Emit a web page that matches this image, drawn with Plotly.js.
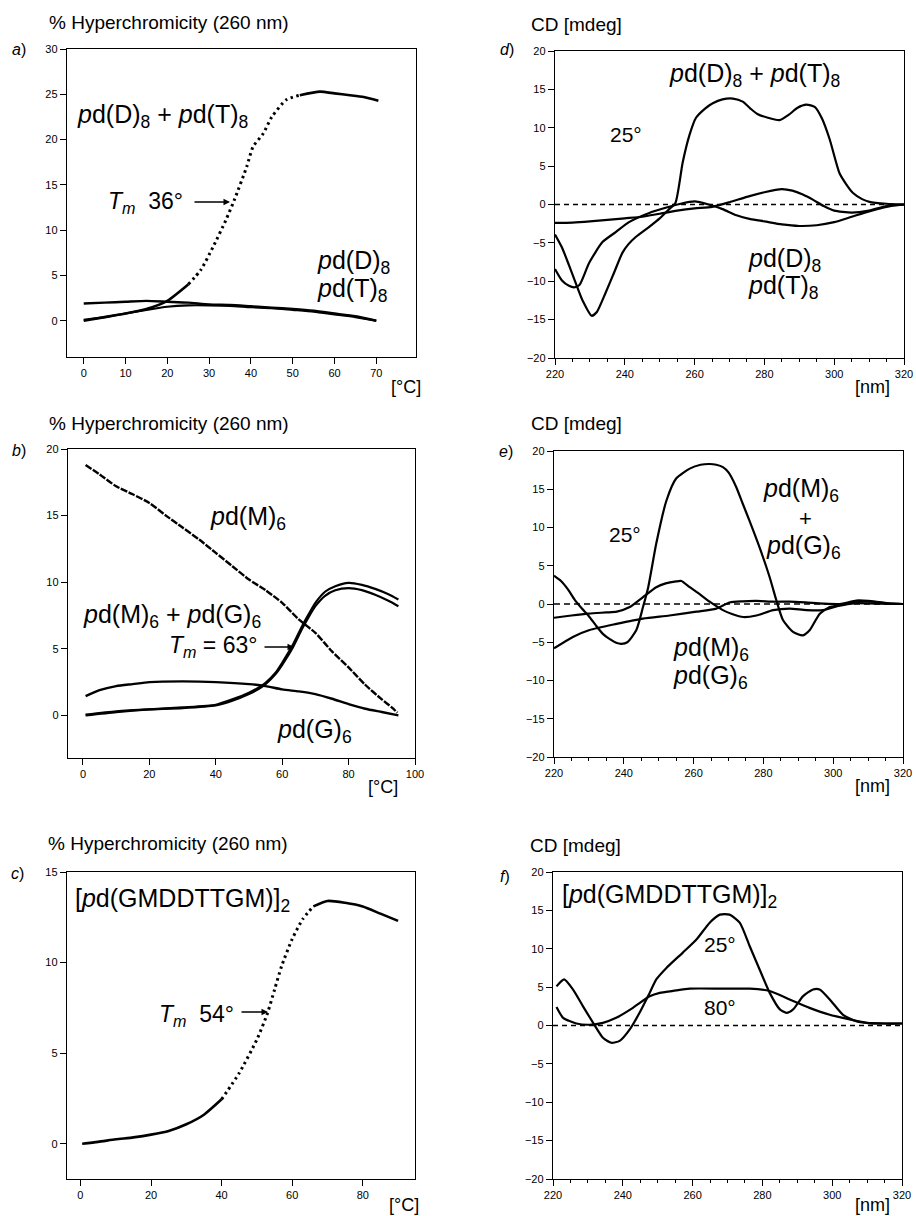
<!DOCTYPE html>
<html>
<head>
<meta charset="utf-8">
<script src="https://cdn.plot.ly/plotly-3.0.1.min.js"></script>
<style>html,body{margin:0;padding:0;background:#fff;}#chart{width:916px;height:1216px;}</style>
</head>
<body>
<div id="chart"></div>
<script>
// ---------- Panel a : UV melting, pd(D)8 + pd(T)8 ----------
const aMeltT = [0, 5, 10, 15, 20, 25, 28, 31, 34, 36, 39, 40.5, 43, 45, 48.5, 51.7, 56.5, 60, 63.7, 67, 70.5];
const aMeltY = [0, 0.4, 0.8, 1.3, 2.2, 4.0, 5.6, 8.2, 11.1, 13.3, 17.0, 19.2, 20.7, 22.5, 24.4, 24.9, 25.3, 25.1, 24.9, 24.7, 24.3];
const aD8T = [0, 5, 10, 15, 20, 25, 30, 35, 40, 45, 50, 55, 60, 65, 70];
const aD8Y = [1.9, 2.0, 2.1, 2.2, 2.1, 2.0, 1.8, 1.75, 1.6, 1.45, 1.3, 1.1, 0.8, 0.5, 0.0];
const aT8T = [0, 5, 10, 15, 20, 25, 30, 35, 40, 45, 50, 55, 60, 65, 70];
const aT8Y = [0.1, 0.4, 0.8, 1.2, 1.55, 1.7, 1.7, 1.65, 1.5, 1.4, 1.2, 1.0, 0.7, 0.4, 0.0];

// ---------- Panel d : CD, pd(D)8 / pd(T)8 ----------
const dMixNm = [220, 222, 224, 226, 228, 230.5, 232, 234.5, 237, 239.3, 241, 243.2, 247, 250, 252.7, 254.5, 256.6, 258.5, 260.4, 263, 265.2, 268, 271, 273.8, 276, 278, 281, 284.3, 287, 289.5, 292, 294.5, 296.5, 298.7, 301.5, 303.5, 305.4, 308, 310.1, 315, 320];
const dMixCD = [-3.9, -5.6, -7.9, -10.3, -12.6, -14.5, -14.0, -11.5, -8.8, -6.3, -5.2, -4.2, -2.9, -1.8, -0.6, 0.2, 5.5, 9.0, 11.3, 12.5, 13.2, 13.7, 13.8, 13.4, 12.5, 11.8, 11.3, 11.0, 11.7, 12.6, 13.0, 12.7, 11.2, 8.5, 4.1, 2.6, 1.5, 0.7, 0.35, 0.1, 0];
const dD8Nm = [220, 222, 224, 225.5, 227, 229.8, 233.6, 237.4, 241.2, 247, 252.7, 256, 260, 264, 268, 272, 276, 280, 285, 290, 295, 300, 305, 310, 315, 320];
const dD8CD = [-8.4, -9.9, -10.6, -10.8, -10.5, -7.6, -4.9, -3.6, -2.3, -1.1, -0.3, 0.1, 0.4, 0.0, -0.6, -1.4, -1.9, -2.2, -2.6, -2.8, -2.7, -2.3, -1.6, -0.9, -0.3, 0];
const dT8Nm = [220, 225, 230, 235, 240, 245, 250, 255, 260, 265, 270, 275, 280, 285, 288, 291, 294, 297, 300, 305, 310, 315, 320];
const dT8CD = [-2.4, -2.35, -2.2, -2.0, -1.8, -1.6, -1.2, -0.8, -0.5, -0.3, 0.3, 1.0, 1.6, 2.0, 1.8, 1.3, 0.6, -0.2, -0.8, -1.05, -0.8, -0.2, 0];

// ---------- Panel b : UV melting, pd(M)6 + pd(G)6 ----------
const bM6T = [0.8, 5, 10, 15, 20, 25, 30, 35, 40, 45, 50, 55, 60, 65, 70, 75, 80, 85, 90, 93, 94.7];
const bM6Y = [18.8, 18.1, 17.2, 16.6, 15.95, 15.0, 14.1, 13.2, 12.2, 11.2, 10.2, 9.4, 8.45, 7.2, 6.2, 4.8, 3.6, 2.3, 1.2, 0.6, 0.2];
const bMixT = [0.8, 10, 20, 30, 40, 45, 50, 53, 55, 58, 60, 63, 66, 68, 70, 73, 76, 80, 84, 88, 92, 95];
const bMix1Y = [0.0, 0.25, 0.45, 0.6, 0.8, 1.2, 1.7, 2.1, 2.45, 3.2, 3.95, 5.2, 6.7, 7.6, 8.45, 9.3, 9.7, 9.95, 9.8, 9.5, 9.1, 8.7];
const bMix2Y = [0.05, 0.3, 0.45, 0.55, 0.75, 1.1, 1.6, 2.0, 2.35, 3.1, 3.8, 5.0, 6.5, 7.4, 8.2, 9.0, 9.4, 9.55, 9.4, 9.05, 8.6, 8.2];
const bG6T = [0.8, 5, 10, 15, 20, 30, 40, 50, 55, 60, 65, 70, 75, 80, 85, 90, 95];
const bG6Y = [1.45, 1.9, 2.2, 2.35, 2.5, 2.55, 2.5, 2.35, 2.2, 1.95, 1.8, 1.6, 1.25, 0.85, 0.5, 0.25, 0.0];

// ---------- Panel e : CD, pd(M)6 / pd(G)6 ----------
const eMixNm = [220, 222, 224, 226, 228, 230, 232, 234, 236, 238, 239.3, 241, 243.6, 245.5, 247, 249.3, 252.2, 255, 258.9, 262, 264.6, 266.5, 268.4, 270, 272.2, 274, 276, 278.9, 281.8, 283.7, 285.6, 288.5, 291.3, 293.3, 296.1, 299, 301.9, 306.6, 312, 320];
const eMixCD = [3.7, 3.0, 1.9, 0.5, -0.6, -1.6, -2.8, -3.9, -4.6, -5.1, -5.2, -5.0, -3.4, -0.4, 2.2, 7.9, 13.5, 16.4, 17.7, 18.2, 18.3, 18.2, 17.9, 17.2, 15.3, 13.2, 10.9, 7.4, 3.5, 0.5, -2.1, -3.65, -4.1, -3.4, -1.3, -0.4, -0.2, 0.1, 0.05, 0];
const eM6Nm = [220, 225, 230, 235, 238, 241.7, 245.5, 249.3, 252, 255, 256.5, 258.9, 262, 264.6, 268.4, 271, 274.2, 278, 282.8, 287.5, 292.3, 297.1, 301.9, 306.6, 311.4, 316, 320];
const eM6CD = [-1.8, -1.5, -1.25, -1.1, -1.0, -0.4, 0.9, 2.2, 2.7, 2.95, 3.0, 2.2, 1.2, 0.3, -0.8, -1.3, -1.7, -1.5, -0.8, -0.6, -0.8, -0.8, -0.2, 0.3, 0.3, 0.1, 0];
const eG6Nm = [220, 225.4, 230.2, 237.9, 245.5, 253.1, 260.8, 266.5, 270.3, 274, 278, 282.8, 287.5, 292, 297, 301.9, 306.6, 310, 315, 320];
const eG6CD = [-5.8, -4.3, -3.4, -2.6, -1.9, -1.5, -1.0, -0.6, 0.2, 0.35, 0.4, 0.3, 0.3, 0.2, 0.05, 0.0, 0.45, 0.4, 0.1, 0];

// ---------- Panel c : UV melting, [pd(GMDDTTGM)]2 ----------
const cT = [0.5, 5, 10, 15, 20, 25, 30, 35, 40, 45, 50, 53, 55, 57, 60, 63, 66, 70, 75, 80, 85, 90];
const cY = [0.0, 0.1, 0.24, 0.35, 0.5, 0.7, 1.07, 1.6, 2.45, 3.9, 5.75, 7.2, 8.5, 9.8, 11.3, 12.4, 13.1, 13.4, 13.3, 13.1, 12.7, 12.3];

// ---------- Panel f : CD, [pd(GMDDTTGM)]2 at 25 and 80 °C ----------
const f25Nm = [221, 223.2, 225.7, 228.6, 231.5, 234.3, 236.7, 239.1, 242, 244.8, 247.7, 249.6, 252.5, 257.2, 261.1, 264.9, 267.8, 270.6, 273.5, 276.4, 279.2, 282.1, 285, 286.9, 288.8, 291.6, 294.5, 296.4, 299.3, 303.1, 306.9, 309.8, 315, 320];
const f25CD = [5.1, 6.0, 4.7, 2.5, 0.35, -1.6, -2.25, -2.0, -0.5, 1.65, 4.25, 6.0, 7.5, 9.5, 11.2, 13.4, 14.45, 14.45, 13.4, 10.3, 7.3, 4.25, 2.1, 1.65, 2.1, 3.8, 4.7, 4.7, 3.4, 1.4, 0.56, 0.35, 0.26, 0.26];
const f80Nm = [221, 222.9, 226.7, 230.5, 234.3, 238.1, 242.9, 247.7, 250.6, 254.4, 259.2, 268.7, 276.4, 282.1, 287.8, 293.5, 299.3, 305, 309.8, 315, 320];
const f80CD = [2.4, 1.0, 0.26, 0.1, 0.35, 1.0, 2.3, 3.8, 4.25, 4.5, 4.8, 4.8, 4.8, 4.5, 3.4, 2.3, 1.4, 0.8, 0.35, 0.26, 0.26];

// baseline (CD = 0)
const baseNm = [220, 320];
const baseCD = [0, 0];

// tick labels
const aTicksX = [0, 10, 20, 30, 40, 50, 60, 70];
const aTicksY = [0, 5, 10, 15, 20, 25, 30];
const bTicksX = [0, 20, 40, 60, 80, 100];
const bTicksY = [0, 5, 10, 15, 20];
const cTicksX = [0, 20, 40, 60, 80];
const cTicksY = [0, 5, 10, 15];
const cdTicksX = [220, 240, 260, 280, 300, 320];
const cdTicksY = [-20, -15, -10, -5, 0, 5, 10, 15, 20];

// ---------- drawing ----------
const W = 916, H = 1216;
const FONT = 'Liberation Sans, Arial, Helvetica, sans-serif';
const px = v => v / W;
const py = v => 1 - v / H;

function line(xs, ys, ax, opts) {
  opts = opts || {};
  return {
    type: 'scatter', mode: 'lines', x: xs, y: ys, xaxis: 'x' + ax, yaxis: 'y' + ax,
    line: {color: 'black', width: opts.width || 2.2, dash: opts.dash || 'solid', shape: 'spline', smoothing: 0.6},
    hoverinfo: 'skip'
  };
}
function seg(xs, ys, i0, i1, ax, opts) {
  return line(xs.slice(i0, i1 + 1), ys.slice(i0, i1 + 1), ax, opts);
}

const traces = [
  // a
  seg(aMeltT, aMeltY, 0, 5, '', {width: 2.6}),
  seg(aMeltT, aMeltY, 5, 15, '', {width: 3, dash: '2.5px,3.5px'}),
  seg(aMeltT, aMeltY, 15, 20, '', {width: 2.6}),
  line(aD8T, aD8Y, '', {width: 2.4}),
  line(aT8T, aT8Y, '', {width: 2.2}),
  // d
  line(baseNm, baseCD, '2', {width: 1.4, dash: '5px,4px'}),
  line(dMixNm, dMixCD, '2'),
  line(dD8Nm, dD8CD, '2'),
  line(dT8Nm, dT8CD, '2'),
  // b
  line(bM6T, bM6Y, '3', {width: 2.4, dash: '7px,1.5px'}),
  line(bMixT, bMix1Y, '3', {width: 2.2}),
  line(bMixT, bMix2Y, '3', {width: 2.2}),
  line(bG6T, bG6Y, '3', {width: 2.4}),
  // e
  line(baseNm, baseCD, '4', {width: 1.6, dash: '6px,4px'}),
  line(eMixNm, eMixCD, '4'),
  line(eM6Nm, eM6CD, '4'),
  line(eG6Nm, eG6CD, '4'),
  // c
  seg(cT, cY, 0, 8, '5', {width: 2.6}),
  seg(cT, cY, 8, 16, '5', {width: 3, dash: '2.5px,3.5px'}),
  seg(cT, cY, 16, 21, '5', {width: 2.6}),
  // f
  line(baseNm, baseCD, '6', {width: 1.4, dash: '5px,4px'}),
  line(f25Nm, f25CD, '6'),
  line(f80Nm, f80CD, '6')
];

function axis(domain, anchor, range, tickvals, extra) {
  return Object.assign({
    domain: domain, anchor: anchor, range: range, tickmode: 'array', tickvals: tickvals,
    showline: true, mirror: true, linecolor: 'black', linewidth: 1.4,
    ticks: 'outside', ticklen: 6, tickwidth: 1, tickcolor: 'black',
    showgrid: false, zeroline: false, fixedrange: true,
    tickfont: {family: FONT, size: 11, color: 'black'}
  }, extra || {});
}
const cdMinor = {minor: {dtick: 5, tick0: 220, ticks: 'outside', ticklen: 3, tickwidth: 1, tickcolor: 'black'}};

const layout = {
  width: W, height: H, margin: {l: 0, r: 0, t: 0, b: 0},
  paper_bgcolor: 'white', plot_bgcolor: 'white', showlegend: false,
  font: {family: FONT, color: 'black', size: 12},
  // a
  xaxis: axis([px(67), px(416)], 'y', [-4, 79.5], aTicksX),
  yaxis: axis([py(357), py(49)], 'x', [-4, 30], aTicksY),
  // d
  xaxis2: axis([px(555), px(904)], 'y2', [220, 320], cdTicksX, cdMinor),
  yaxis2: axis([py(358), py(51)], 'x2', [-20, 20], cdTicksY),
  // b
  xaxis3: axis([px(68), px(415)], 'y3', [-4.5, 100], bTicksX),
  yaxis3: axis([py(758), py(449)], 'x3', [-3.2, 20], bTicksY),
  // e
  xaxis4: axis([px(554), px(903)], 'y4', [220, 320], cdTicksX, cdMinor),
  yaxis4: axis([py(757), py(451)], 'x4', [-20, 20], cdTicksY),
  // c
  xaxis5: axis([px(67), px(415)], 'y5', [-3.8, 94.8], cTicksX),
  yaxis5: axis([py(1179), py(872)], 'x5', [-1.95, 15], cTicksY),
  // f
  xaxis6: axis([px(553), px(902)], 'y6', [220, 320], cdTicksX, cdMinor),
  yaxis6: axis([py(1179), py(872)], 'x6', [-20, 20], cdTicksY),
  annotations: []
};

function lab(x, y, text, size, extra) {
  return Object.assign({
    xref: 'paper', yref: 'paper', x: px(x), y: py(y), xanchor: 'left', yanchor: 'middle',
    text: text, showarrow: false, font: {family: FONT, size: size, color: 'black'}
  }, extra || {});
}
function arrow(x0, y0, x1, y1) {
  return {
    xref: 'paper', yref: 'paper', x: px(x1), y: py(y1), ax: x0 - x1, ay: y0 - y1,
    text: '', showarrow: true, arrowhead: 2, arrowsize: 1, arrowwidth: 1.3, arrowcolor: 'black', standoff: 0
  };
}
const pD8 = '<i>p</i>d(D)<sub>8</sub>', pT8 = '<i>p</i>d(T)<sub>8</sub>';
const pM6 = '<i>p</i>d(M)<sub>6</sub>', pG6 = '<i>p</i>d(G)<sub>6</sub>';
const pGM = '[<i>p</i>d(GMDDTTGM)]<sub>2</sub>';
const HYP = '% Hyperchromicity (260 nm)', CD = 'CD [mdeg]';
const BIG = 25, TITLE = 19;

layout.annotations.push(
  // a
  lab(47, 23, HYP, TITLE),
  lab(10, 49, '<i>a</i>)', 16),
  lab(75, 116, pD8 + ' + ' + pT8, BIG),
  lab(106, 203, '<i>T<sub>m</sub></i>  36°', 23),
  arrow(193, 202, 230, 202),
  lab(315, 262, pD8, BIG),
  lab(315, 290, pT8, BIG),
  lab(389, 387, '[°C]', 18),
  // d
  lab(529, 24, CD, 19),
  lab(498, 49, '<i>d</i>)', 16),
  lab(667, 75, pD8 + ' + ' + pT8, BIG),
  lab(608, 134, '25°', 21),
  lab(746, 260, pD8, BIG),
  lab(746, 287, pT8, BIG),
  lab(853, 387, '[nm]', 18),
  // b
  lab(47, 423, HYP, TITLE),
  lab(10, 450, '<i>b</i>)', 16),
  lab(208, 518, pM6, BIG),
  lab(81, 616, pM6 + ' + ' + pG6, BIG),
  lab(167, 646, '<i>T<sub>m</sub></i> = 63°', 23),
  arrow(263, 647, 294, 647),
  lab(275, 731, pG6, BIG),
  lab(366, 787, '[°C]', 18),
  // e
  lab(529, 423, CD, 19),
  lab(497, 451, '<i>e</i>)', 16),
  lab(761, 490, pM6, BIG),
  lab(805, 518, '+', 22, {xanchor: 'center'}),
  lab(764, 547, pG6, BIG),
  lab(607, 534, '25°', 21),
  lab(671, 649, pM6, BIG),
  lab(671, 677, pG6, BIG),
  lab(853, 786, '[nm]', 18),
  // c
  lab(46, 843, HYP, TITLE),
  lab(9, 873, '<i>c</i>)', 16),
  lab(73, 900, pGM, BIG),
  lab(157, 1015, '<i>T<sub>m</sub></i>  54°', 23),
  arrow(240, 1012, 268, 1012),
  lab(387, 1205, '[°C]', 18),
  // f
  lab(528, 845, CD, 19),
  lab(498, 876, '<i>f</i>)', 16),
  lab(560, 896, pGM, BIG),
  lab(702, 944, '25°', 21),
  lab(702, 1007, '80°', 21),
  lab(853, 1205, '[nm]', 18)
);

Plotly.newPlot('chart', traces, layout, {displayModeBar: false});
</script>
</body>
</html>
